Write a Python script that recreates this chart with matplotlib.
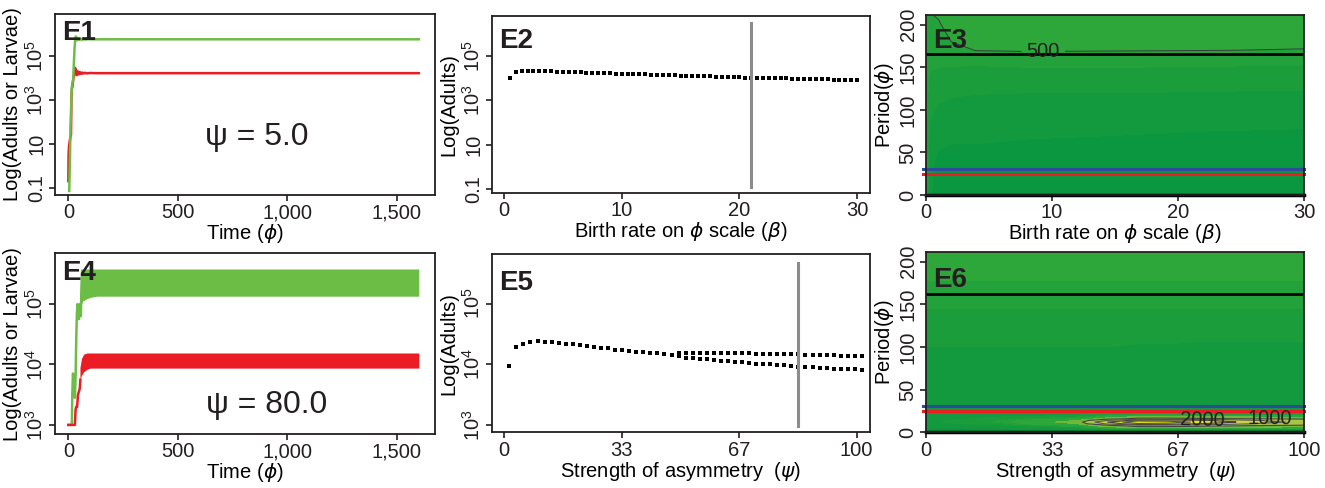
import numpy as np
import matplotlib.pyplot as plt
from matplotlib.ticker import NullLocator

plt.rcParams['font.family'] = ['Liberation Sans', 'DejaVu Sans']
plt.rcParams['mathtext.fontset'] = 'dejavusans'
plt.rcParams['font.size'] = 14.5
plt.rcParams['axes.linewidth'] = 1.3

GREEN = '#6cbd45'
RED = '#ec1c24'
BLUE = '#2b4c9b'
INK = '#231f20'

# ---- E1: time series, psi = 5 (log10 of abundance) ----
e1_green_t = [4, 7, 10, 13, 16, 19, 22, 25, 28, 31, 34, 37, 40, 44, 48, 52, 56, 60, 65, 70, 80, 90, 100, 120, 140, 160, 1600]
e1_green_log = [-1.15, 0.2, 1.8, 2.8, 3.6, 3.8, 3.9, 4.6, 5.3, 5.7, 5.88, 5.82, 5.7, 5.78, 5.72, 5.79, 5.74, 5.77, 5.73, 5.76, 5.74, 5.76, 5.75, 5.75, 5.75, 5.75, 5.75]
e1_red_t = [0, 1, 3, 6, 9, 12, 14, 16, 19, 22, 25, 28, 31, 34, 37, 40, 43, 46, 50, 54, 58, 63, 68, 75, 85, 100, 120, 150, 1600]
e1_red_log = [-0.7, 0.5, 0.9, 1.1, 1.3, 1.4, 3.0, 3.5, 3.6, 3.9, 4.1, 4.3, 4.45, 4.35, 4.12, 4.3, 4.15, 4.27, 4.17, 4.25, 4.18, 4.24, 4.19, 4.23, 4.2, 4.22, 4.21, 4.21, 4.21]

# ---- E4: time series, psi = 80 ----
e4_green_t = [0, 16, 18, 21, 24, 27, 30, 33, 36, 39, 42, 45, 48, 51, 54, 57, 60, 63]
e4_green_log = [3.0, 3.0, 3.5, 3.85, 3.78, 3.55, 3.45, 3.8, 4.4, 4.85, 5.0, 4.95, 4.75, 4.95, 5.0, 4.8, 5.3, 5.55]
e4_green_band_t = [60, 66, 80, 100, 130, 1600]
e4_green_lo = [5.0, 5.05, 5.08, 5.11, 5.13, 5.13]
e4_green_hi = [5.5, 5.58, 5.58, 5.58, 5.58, 5.58]
e4_red_t = [0, 30, 33, 36, 40, 44, 48, 52, 55]
e4_red_log = [3.0, 3.0, 3.25, 3.3, 3.3, 3.5, 3.55, 3.6, 3.75]
e4_red_band_t = [53, 60, 70, 85, 100, 1600]
e4_red_lo = [3.75, 3.82, 3.88, 3.92, 3.94, 3.94]
e4_red_hi = [3.95, 4.1, 4.17, 4.19, 4.19, 4.19]

# ---- E2: adults vs birth rate ----
e2_beta = np.arange(0.5, 30.01, 0.5)
e2_log = [4.03, 4.27, 4.31, 4.33, 4.33, 4.33, 4.32, 4.31, 4.30, 4.29,
          4.28, 4.27, 4.26, 4.25, 4.24, 4.23, 4.23, 4.22, 4.21, 4.20,
          4.19, 4.19, 4.18, 4.17, 4.16, 4.15, 4.15, 4.14, 4.13, 4.12,
          4.11, 4.10, 4.10, 4.09, 4.08, 4.07, 4.06, 4.05, 4.05, 4.04,
          4.03, 4.02, 4.02, 4.01, 4.00, 4.00, 3.99, 3.99, 3.98, 3.97,
          3.97, 3.96, 3.96, 3.95, 3.95, 3.94, 3.94, 3.94, 3.93, 3.93]
e2_mark = 21.0

# ---- E5: adults vs strength of asymmetry ----
e5_psi = np.arange(1.5, 102, 2)
e5_upper_log = [3.97, 4.28, 4.34, 4.37, 4.375, 4.37, 4.36, 4.35, 4.34, 4.33,
                4.32, 4.30, 4.29, 4.27, 4.26, 4.24, 4.23, 4.22, 4.21, 4.20,
                4.19, 4.18, 4.17, 4.16, 4.18, 4.19, 4.19, 4.19, 4.19, 4.19,
                4.185, 4.185, 4.18, 4.18, 4.18, 4.175, 4.175, 4.17, 4.17, 4.17,
                4.165, 4.165, 4.16, 4.16, 4.155, 4.15, 4.145, 4.14, 4.14, 4.135,
                4.13]
e5_lower_psi = np.arange(49.5, 102, 2)
e5_lower_log = [4.13, 4.11, 4.10, 4.09, 4.08, 4.07, 4.06, 4.05, 4.04, 4.03,
                4.02, 4.01, 4.00, 4.00, 3.99, 3.98, 3.97, 3.96, 3.96, 3.95,
                3.94, 3.94, 3.93, 3.93, 3.92, 3.92, 3.91]
e5_mark = 83.3

# ---- E3: wavelet-like power vs birth rate and period ----
e3_beta = [0, 0.3, 1, 2, 4, 8, 15, 22, 30]
e3_period = [0, 40, 60, 100, 140, 160, 170, 180, 200, 212]
e3_power = [
    [430, 330, 280, 270, 270, 270, 270, 270, 270],
    [440, 340, 300, 295, 290, 290, 285, 280, 280],
    [450, 360, 330, 320, 320, 315, 310, 305, 300],
    [460, 390, 370, 360, 355, 350, 350, 345, 345],
    [470, 430, 420, 415, 410, 410, 410, 410, 405],
    [480, 470, 460, 460, 460, 470, 470, 465, 460],
    [490, 480, 475, 480, 502, 505, 503, 501, 498],
    [495, 490, 485, 500, 520, 525, 520, 515, 510],
    [498, 495, 495, 520, 545, 550, 545, 540, 535],
    [499, 498, 505, 530, 560, 565, 560, 555, 550],
]
e3_black = 166
e3_blue = 31
e3_red = 24.7

# ---- E6: power vs strength of asymmetry and period ----
e6_psi = [0, 20, 40, 48, 56, 64, 72, 80, 90, 100]
e6_period = [0, 4, 8, 10, 12, 14, 16, 20, 30, 60, 100, 140, 160, 170, 180, 212]
e6_power = [
    [300, 300, 300, 300, 300, 300, 300, 300, 300, 300],
    [310, 320, 330, 350, 380, 380, 370, 360, 350, 350],
    [330, 360, 500, 900, 1300, 1300, 1200, 1100, 1000, 950],
    [350, 420, 700, 1600, 2400, 2300, 2000, 1700, 1400, 1250],
    [360, 450, 800, 2000, 3000, 2800, 2400, 2100, 1600, 1400],
    [360, 440, 700, 1500, 2200, 2200, 2100, 1800, 1450, 1300],
    [350, 400, 500, 800, 1100, 1100, 1050, 1000, 950, 900],
    [340, 360, 380, 420, 450, 450, 440, 430, 420, 410],
    [320, 320, 320, 330, 330, 330, 330, 330, 330, 330],
    [340, 340, 340, 340, 340, 340, 340, 340, 340, 340],
    [380, 380, 380, 380, 375, 375, 370, 370, 370, 370],
    [430, 430, 430, 430, 430, 430, 430, 430, 430, 430],
    [470, 470, 470, 470, 470, 470, 470, 470, 470, 470],
    [485, 485, 485, 485, 485, 485, 485, 485, 485, 485],
    [505, 505, 505, 505, 505, 505, 505, 505, 505, 505],
    [520, 520, 520, 520, 520, 520, 520, 520, 520, 520],
]
e6_black = 162
e6_blue = 31
e6_red = 24.6

levels = [0, 320, 380, 440, 500, 700, 1000, 1500, 2000, 2500, 4000]
fill_colors = ['#0b9640', '#13993e', '#1b9d3c', '#23a13b', '#2ea73a',
               '#6fb83c', '#a8c646', '#cdd24a', '#e3e12a', '#f0ef00']

fig = plt.figure(figsize=(13.25, 4.88), dpi=100)


def style(ax):
    for sp in ax.spines.values():
        sp.set_color(INK)
    ax.tick_params(direction='out', length=4, width=1.2, pad=2, colors=INK, labelsize=14.5)
    ax.yaxis.set_minor_locator(NullLocator())
    ax.xaxis.set_minor_locator(NullLocator())


def rot_y(ax):
    plt.setp(ax.get_yticklabels(), rotation=90, va='center')


def tag(ax, s, y):
    ax.text(0.02, y, s, transform=ax.transAxes, ha='left', va='top',
            fontsize=20, fontweight='bold', color=INK)


sup = lambda p: r'$\mathregular{10^%d}$' % p

# E1
ax = fig.add_axes([0.0415, 0.6004, 0.2868, 0.3709])
ax.set_yscale('log')
ax.plot(e1_red_t, 10 ** np.array(e1_red_log), color=RED, lw=1.8)
ax.plot(e1_green_t, 10 ** np.array(e1_green_log), color=GREEN, lw=1.8)
ax.set_xlim(-61, 1674)
ax.set_ylim(10 ** -1.33, 10 ** 6.9)
ax.set_xticks([0, 500, 1000, 1500], ['0', '500', '1,000', '1,500'])
ax.set_yticks([0.1, 10, 1e3, 1e5], ['0.1', '10', sup(3), sup(5)])
style(ax)
rot_y(ax)
ax.set_xlabel(r'Time ($\phi$)', labelpad=0)
ax.set_ylabel('Log(Adults or Larvae)', labelpad=2)
tag(ax, 'E1', 0.965)
ax.text(0.53, 0.32, 'ψ = 5.0', transform=ax.transAxes, ha='center', va='center', fontsize=23, color=INK)

# E4
ax = fig.add_axes([0.0415, 0.1107, 0.2868, 0.3703])
ax.set_yscale('log')
ax.fill_between(e4_green_band_t, 10 ** np.array(e4_green_lo), 10 ** np.array(e4_green_hi), color=GREEN, lw=0)
ax.plot(e4_green_t, 10 ** np.array(e4_green_log), color=GREEN, lw=1.8)
ax.fill_between(e4_red_band_t, 10 ** np.array(e4_red_lo), 10 ** np.array(e4_red_hi), color=RED, lw=0)
ax.plot(e4_red_t, 10 ** np.array(e4_red_log), color=RED, lw=1.8)
ax.set_xlim(-61, 1674)
ax.set_ylim(10 ** 2.85, 10 ** 5.84)
ax.set_xticks([0, 500, 1000, 1500], ['0', '500', '1,000', '1,500'])
ax.set_yticks([1e3, 1e4, 1e5], [sup(3), sup(4), sup(5)])
style(ax)
rot_y(ax)
ax.set_xlabel(r'Time ($\phi$)', labelpad=0)
ax.set_ylabel('Log(Adults or Larvae)', labelpad=2)
tag(ax, 'E4', 0.963)
ax.text(0.557, 0.16, 'ψ = 80.0', transform=ax.transAxes, ha='center', va='center', fontsize=23, color=INK)

# E2
ax = fig.add_axes([0.3711, 0.6045, 0.2855, 0.3627])
ax.set_yscale('log')
ax.plot(e2_beta, 10 ** np.array(e2_log), 's', color='black', ms=2.4, mew=0)
ax.plot([e2_mark, e2_mark], [10 ** -0.9, 10 ** 6.5], color='#8c8c8c', lw=2.2)
ax.set_xlim(-1.05, 31.1)
ax.set_ylim(10 ** -1.17, 10 ** 6.8)
ax.set_xticks([0, 10, 20, 30])
ax.set_yticks([0.1, 10, 1e3, 1e5], ['0.1', '10', sup(3), sup(5)])
style(ax)
rot_y(ax)
ax.set_xlabel(r'Birth rate on $\phi$ scale ($\beta$)', labelpad=0)
ax.set_ylabel('Log(Adults)', labelpad=2)
tag(ax, 'E2', 0.93)

# E5
ax = fig.add_axes([0.3711, 0.1141, 0.2855, 0.3648])
ax.set_yscale('log')
ax.plot(e5_psi, 10 ** np.array(e5_upper_log), 's', color='black', ms=2.4, mew=0)
ax.plot(e5_lower_psi, 10 ** np.array(e5_lower_log), 's', color='black', ms=2.4, mew=0)
ax.plot([e5_mark, e5_mark], [10 ** 2.98, 10 ** 5.67], color='#8c8c8c', lw=2.2)
ax.set_xlim(-3.5, 103.8)
ax.set_ylim(10 ** 2.88, 10 ** 5.81)
ax.set_xticks([0, 100 / 3, 200 / 3, 100], ['0', '33', '67', '100'])
ax.set_yticks([1e3, 1e4, 1e5], [sup(3), sup(4), sup(5)])
style(ax)
rot_y(ax)
ax.set_xlabel(r'Strength of asymmetry  ($\psi$)', labelpad=0)
ax.set_ylabel('Log(Adults)', labelpad=2)
tag(ax, 'E5', 0.91)

# E3
ax = fig.add_axes([0.6989, 0.6004, 0.2853, 0.3682])
ax.contourf(e3_beta, e3_period, e3_power, levels=levels, colors=fill_colors)
cs = ax.contour(e3_beta, e3_period, e3_power, levels=[500], colors='#3a3a3a', linewidths=0.7)
ax.clabel(cs, fmt='%d', manual=[(9.3, 166)], fontsize=14.5, colors=INK, inline=True)
ax.axhline(e3_black, color='black', lw=2)
ax.plot([-0.25, 30], [e3_blue, e3_blue], color=BLUE, lw=2.2, clip_on=False)
ax.plot([-0.25, 30], [e3_red, e3_red], color=RED, lw=2.2, clip_on=False)
ax.axhline(0, color='black', lw=2.5, clip_on=False)
ax.set_xlim(0, 30)
ax.set_ylim(0, 211)
ax.set_xticks([0, 10, 20, 30])
ax.set_yticks([0, 50, 100, 150, 200])
style(ax)
rot_y(ax)
ax.set_xlabel(r'Birth rate on $\phi$ scale ($\beta$)', labelpad=0)
ax.set_ylabel(r'Period($\phi$)', labelpad=2)
tag(ax, 'E3', 0.93)

# E6
ax = fig.add_axes([0.6989, 0.1141, 0.2853, 0.3689])
ax.contourf(e6_psi, e6_period, e6_power, levels=levels, colors=fill_colors)
ax.contour(e6_psi, e6_period, e6_power, levels=[1500, 2500], colors='#555555', linewidths=0.8)
cs = ax.contour(e6_psi, e6_period, e6_power, levels=[1000, 2000], colors='#444444', linewidths=0.8)
ax.clabel(cs, fmt='%d', manual=[(73, 14), (91, 14)], fontsize=14.5, colors=INK, inline=False)
ax.axhline(e6_black, color='black', lw=2)
ax.plot([-0.8, 100], [e6_blue, e6_blue], color=BLUE, lw=2.2, clip_on=False)
ax.plot([-0.8, 100], [e6_red, e6_red], color=RED, lw=2.2, clip_on=False)
ax.axhline(0, color='black', lw=2.5, clip_on=False)
ax.set_xlim(0, 100)
ax.set_ylim(0, 211)
ax.set_xticks([0, 100 / 3, 200 / 3, 100], ['0', '33', '67', '100'])
ax.set_yticks([0, 50, 100, 150, 200])
style(ax)
rot_y(ax)
ax.set_xlabel(r'Strength of asymmetry  ($\psi$)', labelpad=0)
ax.set_ylabel(r'Period($\phi$)', labelpad=2)
tag(ax, 'E6', 0.92)

fig.savefig('out.png', dpi=100)
